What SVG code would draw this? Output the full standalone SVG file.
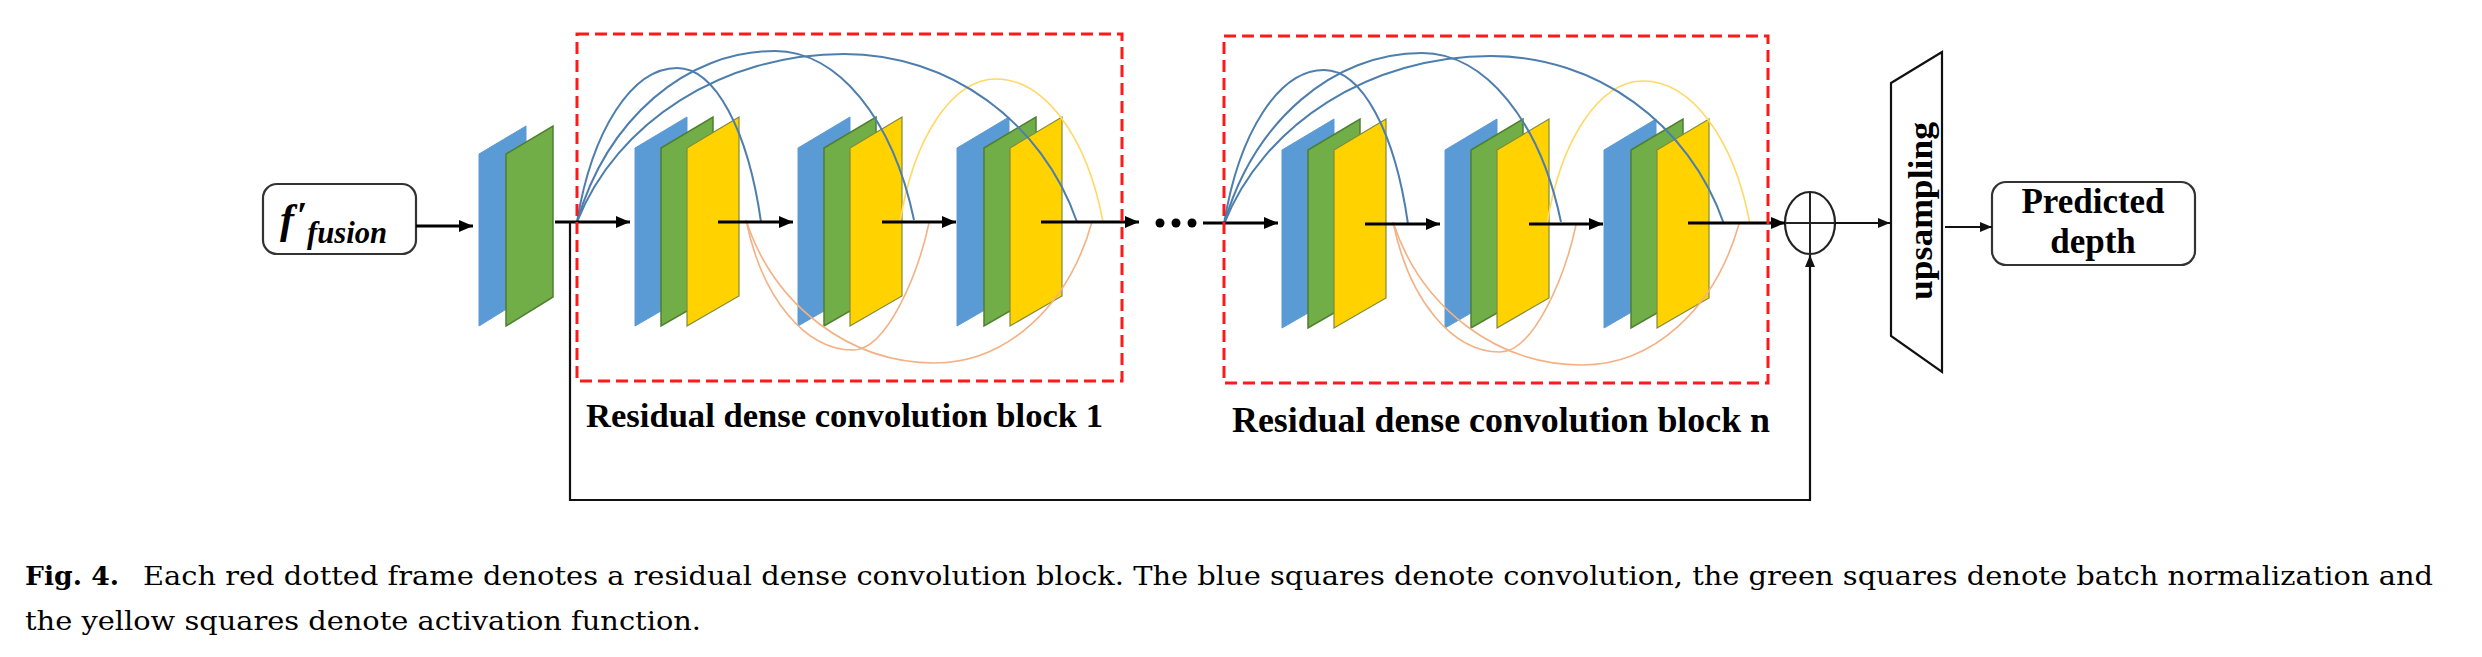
<svg xmlns="http://www.w3.org/2000/svg" xmlns:xlink="http://www.w3.org/1999/xlink" width="2482" height="657" viewBox="0 0 2482 657">
<style>
.bg{fill:#ffffff}
.blue{fill:#5b9bd5;stroke:#5b9bd5;stroke-width:1}
.green{fill:#72ae48;stroke:#4f7f30;stroke-width:1.5}
.yellow{fill:#ffd200;stroke:#7d8c3a;stroke-width:1.2}
.frame{fill:none;stroke:#ff1a1a;stroke-width:3;stroke-dasharray:12 6}
.lnk-b{fill:none;stroke:#4d7eae;stroke-width:2}
.lnk-o{fill:none;stroke:#f4b183;stroke-width:1.6}
.lnk-y{fill:none;stroke:#ffd966;stroke-width:1.6}
.arr{fill:none;stroke:#000;stroke-width:3;marker-end:url(#ah)}
.arr2{fill:none;stroke:#111;stroke-width:2.2;marker-end:url(#ah2)}
.box{fill:#fff;stroke:#333;stroke-width:2.2}
.lbl{font-family:"Liberation Serif","Times New Roman",serif;font-weight:bold;fill:#000}
.cap{font-family:"DejaVu Serif",serif;font-size:26px;fill:#000}
</style>
<defs>
<marker id="ah" markerUnits="userSpaceOnUse" markerWidth="16" markerHeight="14" refX="14" refY="6" orient="auto">
<path d="M0,0 L14,6 L0,12 z" fill="#000"/>
</marker>
<marker id="ah2" markerUnits="userSpaceOnUse" markerWidth="14" markerHeight="12" refX="12" refY="5" orient="auto">
<path d="M0,0 L12,5 L0,10 z" fill="#111"/>
</marker>
<polygon id="pn" points="0,0 52,-31 52,148 0,178"/>
<polygon id="pn0" points="0,0 47,-28 47,143 0,172"/>
</defs>
<rect class="bg" x="0" y="0" width="2482" height="657"/>

<g id="input-node">
<rect class="box" x="263" y="184" width="153" height="70" rx="14"/>
<text class="lbl" x="280" y="233" font-size="42" font-style="italic">f</text>
<text class="lbl" x="297" y="228" font-size="38" font-weight="normal">′</text>
<text class="lbl" x="307" y="243" font-size="32" font-style="italic" textLength="80" lengthAdjust="spacingAndGlyphs">fusion</text>
</g>

<g id="pre-layers">
<use xlink:href="#pn0" class="blue" x="479" y="154"/>
<use xlink:href="#pn0" class="green" x="506" y="154"/>
</g>

<g id="block-1">
<g id="block1-layers">
<use xlink:href="#pn" class="blue" x="635" y="148"/>
<use xlink:href="#pn" class="green" x="661" y="148"/>
<use xlink:href="#pn" class="yellow" x="687" y="148"/>
<use xlink:href="#pn" class="blue" x="798" y="148"/>
<use xlink:href="#pn" class="green" x="824" y="148"/>
<use xlink:href="#pn" class="yellow" x="850" y="148"/>
<use xlink:href="#pn" class="blue" x="957" y="148"/>
<use xlink:href="#pn" class="green" x="984" y="148"/>
<use xlink:href="#pn" class="yellow" x="1010" y="148"/>
</g>
<g id="block1-dense">
<path class="lnk-o" d="M746,220 C762,298 805,350 853,350 C887,350 918,274 929,223"/>
<path class="lnk-o" d="M746,220 C774,306 850,363 935,363 C1006,363 1068,307 1092,222"/>
<path class="lnk-y" d="M900,222 C914,136 953,79 996,79 C1044,79 1087,136 1103,222"/>
<path class="lnk-b" d="M577,222 C592,130 632,68 677,68 C715,68 748,130 761,222"/>
<path class="lnk-b" d="M577,222 C607,119 686,51 775,51 C838,51 893,119 914,220"/>
<path class="lnk-b" d="M577,222 C617,121 724,54 844,54 C949,54 1042,121 1077,222"/>
</g>
</g>

<g id="block-n" transform="translate(647,2)">
<g id="blockn-layers">
<use xlink:href="#pn" class="blue" x="635" y="148"/>
<use xlink:href="#pn" class="green" x="661" y="148"/>
<use xlink:href="#pn" class="yellow" x="687" y="148"/>
<use xlink:href="#pn" class="blue" x="798" y="148"/>
<use xlink:href="#pn" class="green" x="824" y="148"/>
<use xlink:href="#pn" class="yellow" x="850" y="148"/>
<use xlink:href="#pn" class="blue" x="957" y="148"/>
<use xlink:href="#pn" class="green" x="984" y="148"/>
<use xlink:href="#pn" class="yellow" x="1010" y="148"/>
</g>
<g id="blockn-dense">
<path class="lnk-o" d="M746,220 C762,298 805,350 853,350 C887,350 918,274 929,223"/>
<path class="lnk-o" d="M746,220 C774,306 850,363 935,363 C1006,363 1068,307 1092,222"/>
<path class="lnk-y" d="M900,222 C914,136 953,79 996,79 C1044,79 1087,136 1103,222"/>
<path class="lnk-b" d="M577,222 C592,130 632,68 677,68 C715,68 748,130 761,222"/>
<path class="lnk-b" d="M577,222 C607,119 686,51 775,51 C838,51 893,119 914,220"/>
<path class="lnk-b" d="M577,222 C617,121 724,54 844,54 C949,54 1042,121 1077,222"/>
</g>
</g>

<g id="sum-node">
<ellipse cx="1810" cy="223" rx="25" ry="31" fill="none" stroke="#222" stroke-width="2.2"/>
<line x1="1810" y1="192" x2="1810" y2="254" stroke="#222" stroke-width="2"/>
<line x1="1785" y1="223" x2="1835" y2="223" stroke="#222" stroke-width="2"/>
</g>

<g id="upsampling-node">
<polygon points="1891,83 1942,52 1942,372 1891,336" fill="#fff" stroke="#111" stroke-width="2.2"/>
<text class="lbl" transform="translate(1932,211) rotate(-90)" x="0" y="0" font-size="34" text-anchor="middle" textLength="178" lengthAdjust="spacingAndGlyphs">upsampling</text>
</g>

<g id="output-node">
<rect class="box" x="1992" y="182" width="203" height="83" rx="14"/>
<text class="lbl" x="2093" y="213" font-size="35" text-anchor="middle">Predicted</text>
<text class="lbl" x="2093" y="253" font-size="35" text-anchor="middle">depth</text>
</g>

<g id="connectors">
<line class="arr" x1="416" y1="226" x2="473" y2="226"/>
<line class="arr" x1="555" y1="222" x2="630" y2="222"/>
<line class="arr" x1="718" y1="222" x2="793" y2="222"/>
<line class="arr" x1="882" y1="222" x2="956" y2="222"/>
<line class="arr" x1="1041" y1="222" x2="1139" y2="222"/>
<line class="arr" x1="1203" y1="223" x2="1278" y2="223"/>
<line class="arr" x1="1365" y1="224" x2="1440" y2="224"/>
<line class="arr" x1="1529" y1="224" x2="1603" y2="224"/>
<line class="arr" x1="1688" y1="223" x2="1785" y2="223"/>
<line class="arr2" x1="1835" y1="223" x2="1890" y2="223"/>
<line class="arr2" x1="1945" y1="227" x2="1992" y2="227"/>
<polyline class="arr2" points="570,222 570,500 1810,500 1810,255"/>
<g id="ellipsis" fill="#000">
<circle cx="1160" cy="223" r="4.5"/>
<circle cx="1176" cy="223" r="4.5"/>
<circle cx="1192" cy="223" r="4.5"/>
</g>
</g>

<g id="frames">
<rect class="frame" x="577" y="34" width="545" height="347"/>
<rect class="frame" x="1224" y="36" width="544" height="347"/>
</g>

<g id="block-labels">
<text class="lbl" x="586" y="427" font-size="34.5" textLength="517" lengthAdjust="spacingAndGlyphs">Residual dense convolution block 1</text>
<text class="lbl" x="1232" y="432" font-size="35.5" textLength="538" lengthAdjust="spacingAndGlyphs">Residual dense convolution block n</text>
</g>

<g id="caption">
<text class="cap" x="25" y="585" font-weight="bold" textLength="94" lengthAdjust="spacingAndGlyphs">Fig. 4.</text>
<text class="cap" x="143" y="585" textLength="2290" lengthAdjust="spacingAndGlyphs">Each red dotted frame denotes a residual dense convolution block. The blue squares denote convolution, the green squares denote batch normalization and</text>
<text class="cap" x="25" y="630" textLength="676" lengthAdjust="spacingAndGlyphs">the yellow squares denote activation function.</text>
</g>
</svg>
